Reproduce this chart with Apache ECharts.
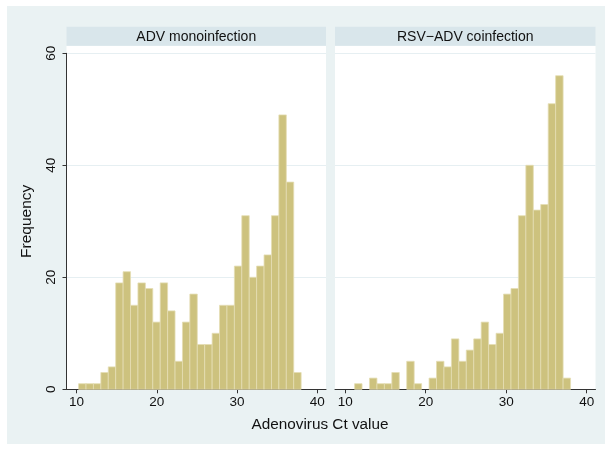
<!DOCTYPE html>
<html>
<head>
<meta charset="utf-8">
<script src="https://cdn.jsdelivr.net/npm/echarts@6/dist/echarts.min.js"></script>
<style>
    html, body { margin: 0; padding: 0; background: #fff; }
    #hist { width: 611px; height: 450px; }
</style>
</head>
<body>
<div id="hist"></div>
<script>
// Histogram bins (Ct value), shared by both panels
const binStart = 10.25;
const binWidth = 0.925;

// Panel titles
const panelNames = ['ADV monoinfection', 'RSV\u2212ADV coinfection'];

// Frequencies per bin
const monoCounts = [1, 1, 1, 3, 4, 19, 21, 15, 19, 18, 12, 19, 14, 5, 12, 17, 8, 8, 10, 15, 15, 22, 31, 20, 22, 24, 31, 49, 37, 3];
const coCounts = [0, 1, 0, 2, 1, 1, 3, 0, 5, 1, 0, 2, 5, 4, 9, 5, 7, 9, 12, 8, 10, 17, 18, 31, 40, 32, 33, 51, 56, 2];

// Axis ticks
const xTicks = [10, 20, 30, 40];
const yTicks = [0, 20, 40, 60];

const FONT = 'Liberation Sans, Arial, Helvetica, sans-serif';
const BAR = '#cdc27e';

const toBins = function (counts) {
    return counts.map((c, i) => [binStart + i * binWidth, binStart + (i + 1) * binWidth, c]);
};

const renderBin = function (params, api) {
    if (api.value(2) === 0) return;
    let p0 = api.coord([api.value(0), api.value(2)]);
    let p1 = api.coord([api.value(1), 0]);
    return {
        type: 'rect',
        shape: { x: p0[0], y: p0[1], width: p1[0] - p0[0], height: p1[1] - p0[1] },
        style: { fill: BAR, stroke: '#e4ddb4', lineWidth: 0.8 }
    };
};

// panel geometry
const panels = [
    { left: 66.5, width: 259.5 },
    { left: 335, width: 260.5 }
];
const plotTop = 53.3, plotBottom = 389.3, panelTop = 46, headTop = 26.7, headH = 19;

let chart = echarts.init(document.getElementById('hist'));

let graphics = [
    { type: 'rect', z: -10, shape: { x: 7, y: 6, width: 598, height: 438 }, style: { fill: '#eaf2f3' } }
];
panels.forEach((p, i) => {
    graphics.push({ type: 'rect', z: -9, shape: { x: p.left, y: panelTop, width: p.width, height: plotBottom - panelTop }, style: { fill: '#fff' } });
    graphics.push({ type: 'rect', z: -9, shape: { x: p.left, y: headTop, width: p.width, height: headH }, style: { fill: '#d9e6eb' } });
    graphics.push({
        type: 'text', z: 5, x: p.left + p.width / 2, y: headTop + headH / 2 + 0.5,
        style: { text: panelNames[i], fill: '#111', font: '14px ' + FONT, textAlign: 'center', textVerticalAlign: 'middle' }
    });
});
graphics.push({
    type: 'text', z: 5, x: 320, y: 425,
    style: { text: 'Adenovirus Ct value', fill: '#111', font: '15.3px ' + FONT, textAlign: 'center', textVerticalAlign: 'middle' }
});

const xAxisFor = function (idx) {
    return {
        type: 'value', gridIndex: idx, min: 8.74, max: 41.1,
        axisLine: { show: true, onZero: false, lineStyle: { color: '#333', width: 1 } },
        axisTick: { show: true, length: 4, customValues: xTicks, lineStyle: { color: '#333' } },
        axisLabel: { customValues: xTicks, color: '#111', fontSize: 13.5, fontFamily: FONT, margin: 6 },
        splitLine: { show: false }
    };
};

const yAxisFor = function (idx) {
    return {
        type: 'value', gridIndex: idx, min: 0, max: 60, interval: 20,
        name: idx === 0 ? 'Frequency' : '',
        nameLocation: 'middle', nameGap: 32,
        nameTextStyle: { color: '#111', fontSize: 15.5, fontFamily: FONT },
        axisLine: { show: idx === 0, lineStyle: { color: '#333', width: 1 } },
        axisTick: { show: idx === 0, length: 4, lineStyle: { color: '#333' } },
        axisLabel: { show: idx === 0, rotate: 90, color: '#111', fontSize: 13.5, fontFamily: FONT, margin: 8 },
        splitLine: { show: true, lineStyle: { color: '#e6eff2', width: 1 } }
    };
};

chart.setOption({
    animation: false,
    backgroundColor: '#fff',
    graphic: graphics,
    grid: panels.map(p => ({ left: p.left, width: p.width, top: plotTop, height: plotBottom - plotTop })),
    xAxis: [xAxisFor(0), xAxisFor(1)],
    yAxis: [yAxisFor(0), yAxisFor(1)],
    series: [
        { type: 'custom', xAxisIndex: 0, yAxisIndex: 0, renderItem: renderBin, data: toBins(monoCounts), encode: { x: [0, 1], y: 2 } },
        { type: 'custom', xAxisIndex: 1, yAxisIndex: 1, renderItem: renderBin, data: toBins(coCounts), encode: { x: [0, 1], y: 2 } }
    ]
});
</script>
</body>
</html>
